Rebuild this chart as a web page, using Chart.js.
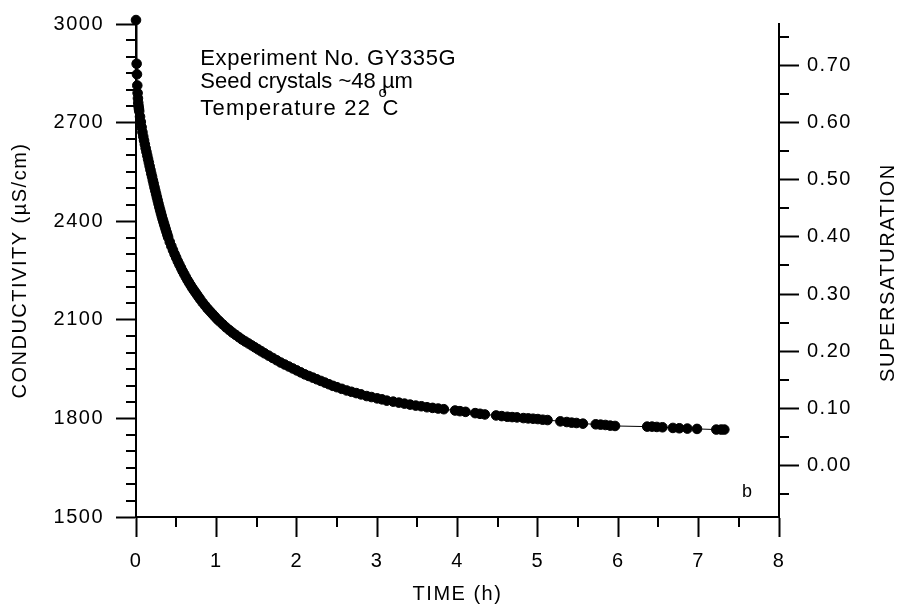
<!DOCTYPE html>
<html><head><meta charset="utf-8">
<script src="https://cdn.jsdelivr.net/npm/chart.js@4.4.0/dist/chart.umd.min.js"></script>
<style>html,body{margin:0;padding:0;background:#fff}</style>
</head><body>
<canvas id="c" width="897" height="608"></canvas>
<script>
// ---- data ----
const timeH = [0.000,0.008,0.012,0.016,0.020,0.024,0.028,0.032,0.036,0.040,
0.050,0.060,0.070,0.080,0.090,0.100,0.110,0.120,0.130,0.140,
0.150,0.160,0.170,0.180,0.190,0.200,0.210,0.220,0.230,0.240,
0.250,0.260,0.270,0.280,0.290,0.300,0.310,0.320,0.330,0.340,
0.350,0.360,0.370,0.380,0.390,0.400,0.420,0.440,0.460,0.480,
0.500,0.520,0.540,0.560,0.580,0.600,0.620,0.640,0.660,0.680,
0.700,0.720,0.740,0.760,0.780,0.800,0.830,0.860,0.890,0.920,
0.950,0.980,1.010,1.040,1.080,1.120,1.160,1.200,1.240,1.280,
1.320,1.360,1.400,1.440,1.480,1.520,1.560,1.600,1.650,1.700,
1.750,1.800,1.850,1.900,1.950,2.000,2.050,2.100,2.150,2.200,
2.250,2.300,2.350,2.400,2.450,2.500,2.560,2.620,2.680,2.740,
2.800,2.870,2.930,3.000,3.060,3.120,3.200,3.270,3.340,3.410,
3.480,3.550,3.620,3.690,3.760,3.830,3.970,4.030,4.100,4.220,
4.280,4.340,4.480,4.550,4.620,4.680,4.740,4.820,4.880,4.940,
5.000,5.060,5.120,5.280,5.360,5.420,5.480,5.560,5.720,5.780,
5.840,5.900,5.960,6.360,6.420,6.480,6.550,6.680,6.760,6.860,
6.980,7.220,7.280,7.320];
const conductivity = [3012,2879,2847,2813,2790,2774,2760,2750,2742,2735,
2718,2702,2686,2671,2658,2646,2634,2622,2611,2600,
2589,2578,2567,2556,2545,2535,2524,2514,2503,2493,
2483,2473,2463,2453,2443,2434,2425,2416,2407,2399,
2391,2383,2375,2367,2359,2351,2337,2324,2312,2300,
2289,2278,2268,2258,2248,2239,2230,2221,2213,2205,
2197,2190,2183,2176,2169,2162,2152,2143,2134,2126,
2118,2110,2102,2095,2086,2077,2069,2061,2054,2047,
2040,2034,2028,2022,2016,2010,2004,1998,1991,1984,
1977,1970,1964,1958,1952,1946,1940,1934,1929,1924,
1919,1914,1909,1904,1899,1895,1890,1885,1881,1877,
1873,1868,1865,1861,1858,1854,1851,1848,1845,1842,
1839,1837,1834,1832,1830,1828,1824,1822,1820,1816,
1814,1812,1809,1807,1805,1804,1803,1801,1800,1799,
1798,1796,1795,1791,1789,1787,1786,1784,1782,1781,
1780,1778,1777,1775,1775,1774,1773,1771,1770,1769,
1768,1766,1766,1766];

const xTickValues = [0,0.5,1,1.5,2,2.5,3,3.5,4,4.5,5,5.5,6,6.5,7,7.5,8];
const xTickLabels = ['0','1','2','3','4','5','6','7','8'];
const leftTickValues = [1500,1550,1600,1650,1700,1750,1800,1850,1900,1950,2000,2050,2100,2150,2200,2250,2300,2350,2400,2450,2500,2550,2600,2650,2700,2750,2800,2850,2900,2950,3000];
const leftTickLabels = ['1500','1800','2100','2400','2700','3000'];
const rightTickValues = [-0.05,0.00,0.05,0.10,0.15,0.20,0.25,0.30,0.35,0.40,0.45,0.50,0.55,0.60,0.65,0.70,0.75];
const rightTickLabels = ['0.00','0.10','0.20','0.30','0.40','0.50','0.60','0.70'];
const infoLines = ['Experiment No. GY335G','Seed crystals ~48 µm','Temperature 22 '];
const degreeMark = 'o';
const degreeUnit = 'C';
const panelLetter = 'b';
const rightTitle = 'SUPERSATURATION';

const FAMILY = '"Liberation Sans", Arial, Helvetica, sans-serif';
const near = (a,b)=>Math.abs(a-b)<1e-6;
const xMajor = v => xTickLabels.some(l=>near(+l,v));
const lMajor = v => leftTickLabels.some(l=>near(+l,v));
const rMajor = v => rightTickLabels.some(l=>near(+l,v));

const points = timeH.map((t,i)=>({x:t,y:conductivity[i]}));

const styler = {
  id:'styler',
  beforeDraw(chart){ chart.ctx.letterSpacing = '1.5px'; },
  afterDraw(chart){
    const ctx = chart.ctx, a = chart.chartArea;
    const sx = chart.scales.x, sl = chart.scales.y, sr = chart.scales.y2;
    ctx.save();
    ctx.strokeStyle = '#000'; ctx.lineWidth = 2;
    ctx.beginPath();
    xTickValues.filter(v=>!xMajor(v)).forEach(v=>{const p=Math.round(sx.getPixelForValue(v)); ctx.moveTo(p,a.bottom); ctx.lineTo(p,a.bottom+10);});
    leftTickValues.filter(v=>!lMajor(v)).forEach(v=>{const p=Math.round(sl.getPixelForValue(v)); ctx.moveTo(a.left,p); ctx.lineTo(a.left-10,p);});
    rightTickValues.filter(v=>!rMajor(v)).forEach(v=>{const p=Math.round(sr.getPixelForValue(v)); ctx.moveTo(a.right,p); ctx.lineTo(a.right+10,p);});
    ctx.stroke();
    ctx.fillStyle = '#000';
    // right axis title, reading bottom-to-top
    ctx.save();
    ctx.font = '20px ' + FAMILY;
    ctx.letterSpacing = '1.6px';
    ctx.translate(sr.right - 9, (a.top + a.bottom) / 2 + 2);
    ctx.rotate(-Math.PI/2);
    ctx.textAlign = 'center'; ctx.textBaseline = 'middle';
    ctx.fillText(rightTitle, 0, 0);
    ctx.restore();
    // annotations
    ctx.textAlign = 'left'; ctx.textBaseline = 'alphabetic';
    ctx.font = '22px ' + FAMILY;
    const x0 = sx.getPixelForValue(0.8);
    const baseY = [2875, 2804, 2722].map(v=>sl.getPixelForValue(v));
    const spacing = ['0.6px','0px','1.2px'];
    infoLines.forEach((s,i)=>{ctx.letterSpacing = spacing[i]; ctx.fillText(s, x0, baseY[i]);});
    ctx.letterSpacing = spacing[2];
    const w = ctx.measureText(infoLines[2]).width;
    ctx.fillText(degreeUnit, x0 + w + 4, baseY[2]);
    ctx.font = '15px ' + FAMILY;
    ctx.fillText(degreeMark, x0 + w, baseY[2] - 18);
    ctx.letterSpacing = '0px';
    ctx.font = '18px ' + FAMILY;
    ctx.fillText(panelLetter, sx.getPixelForValue(7.54), sl.getPixelForValue(1560));
    ctx.restore();
  }
};

const tickFont = {size:20, family:FAMILY};
new Chart(document.getElementById('c'), {
  type:'scatter',
  data:{datasets:[{
    data:points, yAxisID:'y', xAxisID:'x',
    showLine:true, borderColor:'#000', borderWidth:1,
    pointRadius:4.8, pointBorderWidth:1, pointBackgroundColor:'#000', pointBorderColor:'#000',
    clip:false
  }]},
  options:{
    responsive:false, animation:false, devicePixelRatio:1,
    layout:{padding:{top:20,left:0,right:0,bottom:0}},
    plugins:{legend:{display:false}, tooltip:{enabled:false}},
    scales:{
      x:{type:'linear', position:'bottom', min:0, max:8,
        afterBuildTicks:s=>{s.ticks = xTickValues.map(v=>({value:v}));},
        ticks:{autoSkip:false, maxRotation:0, padding:12, color:'#000', font:tickFont,
          callback:v=> xMajor(v) ? xTickLabels.find(l=>near(+l,v)) : ''},
        grid:{drawOnChartArea:false, tickLength:20, tickWidth:2, tickColor:c=> xMajor(c.tick.value)?'#000':'rgba(0,0,0,0)'},
        border:{color:'#000', width:2},
        title:{display:true, text:'TIME (h)', color:'#000', font:{size:20,family:FAMILY}, padding:{top:0,bottom:2}},
        afterFit:s=>{s.height = 91;}
      },
      y:{type:'linear', position:'left', min:1500, max:3000,
        afterBuildTicks:s=>{s.ticks = leftTickValues.map(v=>({value:v}));},
        ticks:{autoSkip:false, padding:12, color:'#000', font:tickFont,
          callback:v=> lMajor(v) ? leftTickLabels.find(l=>near(+l,v)) : ''},
        grid:{drawOnChartArea:false, tickLength:20, tickWidth:2, tickColor:c=> lMajor(c.tick.value)?'#000':'rgba(0,0,0,0)'},
        border:{color:'#000', width:2},
        title:{display:true, text:'CONDUCTIVITY (µS/cm)', color:'#000', font:{size:20,family:FAMILY}, padding:{top:8,bottom:0}},
        afterFit:s=>{s.width = 136;}
      },
      y2:{type:'linear', position:'right', min:-0.0903, max:0.7726,
        afterBuildTicks:s=>{s.ticks = rightTickValues.map(v=>({value:v}));},
        ticks:{autoSkip:false, padding:8, color:'#000', font:tickFont,
          callback:v=> rMajor(v) ? rightTickLabels.find(l=>near(+l,v)) : ''},
        grid:{drawOnChartArea:false, tickLength:20, tickWidth:2, tickColor:c=> rMajor(c.tick.value)?'#000':'rgba(0,0,0,0)'},
        border:{color:'#000', width:2},
        title:{display:false},
        afterFit:s=>{s.width = 118;}
      }
    }
  },
  plugins:[styler]
});
</script>
</body></html>
